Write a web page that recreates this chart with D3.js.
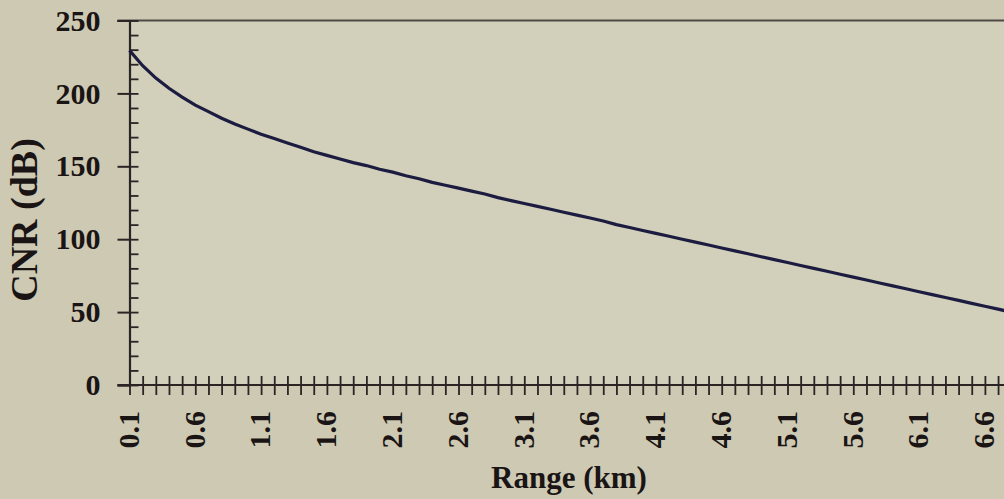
<!DOCTYPE html>
<html>
<head>
<meta charset="utf-8">
<script src="https://cdn.jsdelivr.net/npm/d3@7"></script>
<style>
  html, body { margin: 0; padding: 0; background: #cdc9b3; }
  svg { display: block; }
  text { font-family: "Liberation Serif", "Times New Roman", serif; font-weight: bold; fill: #1a1414; }
</style>
</head>
<body>
<div id="container"></div>
<script>
// VARIABLES

const width = 1004;
const height = 499;
const x0 = 129.5;       // y axis position
const step = 13.16;     // px per 0.1 km category
const yTop = 20.5;
const yBottom = 385;

// DATA

const ranges = ["0.1","0.2","0.3","0.4","0.5","0.6","0.7","0.8","0.9","1.0",
  "1.1","1.2","1.3","1.4","1.5","1.6","1.7","1.8","1.9","2.0",
  "2.1","2.2","2.3","2.4","2.5","2.6","2.7","2.8","2.9","3.0",
  "3.1","3.2","3.3","3.4","3.5","3.6","3.7","3.8","3.9","4.0",
  "4.1","4.2","4.3","4.4","4.5","4.6","4.7","4.8","4.9","5.0",
  "5.1","5.2","5.3","5.4","5.5","5.6","5.7","5.8","5.9","6.0",
  "6.1","6.2","6.3","6.4","6.5","6.6","6.7","6.8"];

const cnr = [229.5, 219, 210.5, 203.5, 197.5, 192, 187.5, 183, 179, 175.5,
  172, 169, 166, 163, 160, 157.5, 155, 152.5, 150.5, 148,
  146, 143.5, 141.5, 139, 137, 135, 133, 131, 128.5, 126.5,
  124.5, 122.5, 120.5, 118.5, 116.5, 114.5, 112.5, 110, 108, 106,
  104, 102, 100, 98, 96, 94, 92, 90, 88, 86,
  84, 82, 80, 78, 76, 74, 72, 70, 68, 66,
  64, 62, 60, 58, 56, 54, 52, 50];

const xLabels = ["0.1","0.6","1.1","1.6","2.1","2.6","3.1","3.6","4.1","4.6","5.1","5.6","6.1","6.6"];
const yTicks = [0, 50, 100, 150, 200, 250];
const yMinor = d3.range(0, 251, 10);

const data = ranges.map((r, i) => ({range: r, cnr: cnr[i]}));

// SCALES

const xScale = d3.scalePoint()
  .domain(ranges)
  .range([x0, x0 + step * (ranges.length - 1)]);

const yScale = d3.scaleLinear()
  .domain([0, 250])
  .range([yBottom, yTop]);

// ELEMENTS

const svg = d3.select("#container")
  .append("svg")
  .attr("width", width)
  .attr("height", height);

svg.append("rect")
  .attr("width", width).attr("height", height)
  .attr("fill", "#cdc9b3");

// plot area
svg.append("rect")
  .attr("x", x0).attr("y", yTop)
  .attr("width", width - x0).attr("height", yBottom - yTop)
  .attr("fill", "#d2cfbb");

// top border
svg.append("line")
  .attr("x1", x0 - 12).attr("x2", width)
  .attr("y1", yTop).attr("y2", yTop)
  .attr("stroke", "#4e4a46").attr("stroke-width", 2);

// y axis - major ticks + labels
svg.append("g")
  .attr("transform", `translate(${x0},0)`)
  .call(d3.axisLeft(yScale).tickValues(yTicks).tickSize(12).tickPadding(17))
  .call(g => g.select(".domain").attr("stroke", "#2a2424").attr("stroke-width", 2.2))
  .call(g => g.selectAll(".tick line").attr("stroke", "#2a2424").attr("stroke-width", 2))
  .call(g => g.selectAll(".tick text")
    .attr("font-size", 30)
    .attr("font-family", "Liberation Serif, Times New Roman, serif")
    .attr("font-weight", "bold")
    .attr("fill", "#1a1414"));

// y axis - inner minor ticks
svg.append("g")
  .attr("transform", `translate(${x0},0)`)
  .call(d3.axisRight(yScale).tickValues(yMinor).tickSize(9).tickFormat(""))
  .call(g => g.select(".domain").remove())
  .call(g => g.selectAll(".tick line").attr("stroke", "#2a2424").attr("stroke-width", 1.8));

// x axis - ticks below
svg.append("g")
  .attr("transform", `translate(0,${yBottom})`)
  .call(d3.axisBottom(xScale).tickSize(10).tickFormat(""))
  .call(g => g.select(".domain").remove())
  .call(g => g.selectAll(".tick line").attr("stroke", "#2a2424").attr("stroke-width", 1.8));

// x axis - ticks above
svg.append("g")
  .attr("transform", `translate(0,${yBottom})`)
  .call(d3.axisTop(xScale).tickSize(9).tickFormat(""))
  .call(g => g.select(".domain").remove())
  .call(g => g.selectAll(".tick line").attr("stroke", "#2a2424").attr("stroke-width", 1.8));

// x axis line
svg.append("line")
  .attr("x1", x0 - 12).attr("x2", width)
  .attr("y1", yBottom).attr("y2", yBottom)
  .attr("stroke", "#2a2424").attr("stroke-width", 2.2);

// x labels, rotated
svg.selectAll("text.xlab")
  .data(xLabels)
  .join("text")
  .attr("class", "xlab")
  .attr("transform", d => `translate(${xScale(d) - 1},${yBottom + 26}) rotate(-90)`)
  .attr("text-anchor", "end")
  .attr("dy", "0.34em")
  .attr("font-size", 30)
  .text(d => d);

// line
svg.append("path")
  .datum(data)
  .attr("fill", "none")
  .attr("stroke", "#1c1c40")
  .attr("stroke-width", 3.2)
  .attr("d", d3.line()
    .x(d => xScale(d.range))
    .y(d => yScale(d.cnr)));

// axis titles
svg.append("text")
  .attr("x", 569).attr("y", 488)
  .attr("text-anchor", "middle")
  .attr("font-size", 31)
  .text("Range (km)");

svg.append("text")
  .attr("transform", "translate(37,220) rotate(-90)")
  .attr("text-anchor", "middle")
  .attr("font-size", 38)
  .text("CNR (dB)");

</script>
</body>
</html>
